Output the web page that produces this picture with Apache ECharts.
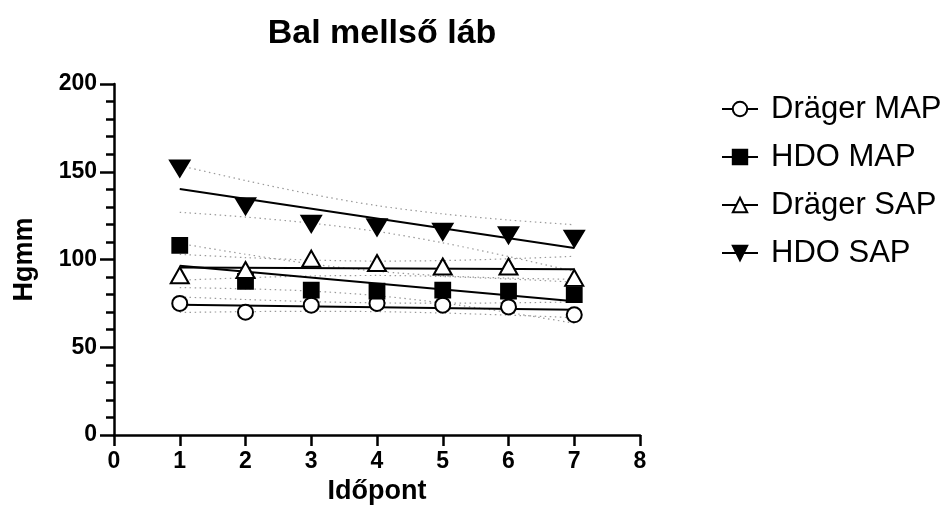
<!DOCTYPE html>
<html>
<head>
<meta charset="utf-8">
<script src="https://cdn.jsdelivr.net/npm/echarts@6/dist/echarts.min.js"></script>
<style>html,body{margin:0;padding:0;background:#fff}#c{width:942px;height:529px}</style>
</head>
<body>
<div id="c"></div>
<script>
// ---- data ----
const xValues = [1, 2, 3, 4, 5, 6, 7];
const xTicks = [0, 1, 2, 3, 4, 5, 6, 7, 8];
const yTicks = [0, 50, 100, 150, 200];
const seriesNames = ['Dräger MAP', 'HDO MAP', 'Dräger SAP', 'HDO SAP'];

const dragerMAP = [75, 70, 74, 75, 74, 73, 68.5];
const hdoMAP = [108, 87.5, 82.5, 82, 82.5, 82, 80];
const dragerSAP = [91, 94, 100.5, 98, 96, 96, 89.5];
const hdoSAP = [152, 130.5, 120.5, 118.5, 116, 114, 112];

// fitted lines (values at x = 1 and x = 7)
const fitX = [1, 7];
const dragerMAPFit = [74.2, 71.3];
const hdoMAPFit = [96.5, 76.2];
const dragerSAPFit = [95.5, 94.5];
const hdoSAPFit = [140.2, 106.5];

// dotted confidence bands (values at x = 1..7)
const dragerMAPUpper = [78.7, 77.2, 76.0, 75.3, 75.1, 75.3, 75.8];
const dragerMAPLower = [69.8, 70.3, 70.5, 70.3, 69.5, 68.3, 66.9];
const hdoMAPUpper = [109.1, 103.0, 97.5, 93.3, 90.7, 89.4, 88.7];
const hdoMAPLower = [84.0, 83.3, 82.0, 79.4, 75.2, 69.8, 63.7];
const dragerSAPUpper = [102.9, 101.1, 99.7, 99.1, 99.4, 100.4, 101.8];
const dragerSAPLower = [88.2, 89.6, 90.6, 90.9, 90.3, 88.9, 87.1];
const hdoSAPUpper = [153.5, 145.0, 137.2, 130.7, 126.0, 122.5, 119.8];
const hdoSAPLower = [126.9, 124.2, 120.7, 116.0, 109.5, 101.7, 93.2];

// ---- chart ----
const FONT = "'Liberation Sans', Arial, Helvetica, sans-serif";
const pair = (xs, ys) => xs.map((x, i) => [x, ys[i]]);

const bandStyle = { color: '#9a9a9a', width: 1.2, type: [1.5, 3.5] };
function band(vals) {
  return { type: 'line', data: pair(xValues, vals), symbol: 'none', smooth: 0.3, silent: true,
           lineStyle: bandStyle, z: 2 };
}
function fit(vals) {
  return { type: 'line', data: pair(fitX, vals), symbol: 'none', silent: true,
           lineStyle: { color: '#000', width: 2 }, z: 3 };
}
function points(name, vals, symbol, size) {
  return { type: 'line', name: name, data: pair(xValues, vals), symbol: symbol, symbolSize: size,
           showSymbol: true, showAllSymbol: true,
           lineStyle: { opacity: 0 }, itemStyle: { color: '#000', borderColor: '#000', borderWidth: 2.8 },
           emphasis: { disabled: true }, z: 5 };
}
const downTri = 'path://M0,0 L16,0 L8,14 Z';

const option = {
  animation: false,
  backgroundColor: '#fff',
  title: {
    text: 'Bal mellső láb', left: 377, top: 12, textAlign: 'center',
    textStyle: { fontFamily: FONT, fontSize: 34, fontWeight: 'bold', color: '#000' }
  },
  legend: {
    orient: 'vertical', left: 716, top: 87, itemWidth: 36, itemHeight: 18, itemGap: 14,
    data: seriesNames,
    textStyle: { fontFamily: FONT, fontSize: 31, color: '#000', lineHeight: 34, padding: [0, 0, 0, 8] },
    lineStyle: { color: '#000', width: 2, opacity: 1 },
    selectedMode: false
  },
  grid: { left: 114, top: 84, width: 526, height: 351, containLabel: false, outerBoundsMode: 'none' },
  xAxis: {
    type: 'value', min: xTicks[0], max: xTicks[xTicks.length - 1], interval: 1,
    name: 'Időpont', nameLocation: 'middle', nameGap: 43,
    nameTextStyle: { fontFamily: FONT, fontSize: 27, fontWeight: 'bold', color: '#000' },
    axisLine: { show: true, onZero: false, lineStyle: { color: '#000', width: 2.5 } },
    axisTick: { show: true, length: 11, lineStyle: { color: '#000', width: 2.5 } },
    axisLabel: { fontFamily: FONT, fontSize: 23, fontWeight: 'bold', color: '#000', margin: 15 },
    splitLine: { show: false }
  },
  yAxis: {
    type: 'value', min: yTicks[0], max: yTicks[yTicks.length - 1], interval: 50,
    name: 'Hgmm', nameLocation: 'middle', nameGap: 76,
    nameTextStyle: { fontFamily: FONT, fontSize: 27, fontWeight: 'bold', color: '#000' },
    axisLine: { show: true, onZero: false, lineStyle: { color: '#000', width: 2.5 } },
    axisTick: { show: true, length: 14, lineStyle: { color: '#000', width: 2.5 } },
    minorTick: { show: true, splitNumber: 5, length: 8, lineStyle: { color: '#000', width: 2.5 } },
    axisLabel: { fontFamily: FONT, fontSize: 23, fontWeight: 'bold', color: '#000', margin: 17 },
    splitLine: { show: false }
  },
  series: [
    band(dragerMAPUpper), band(dragerMAPLower),
    band(hdoMAPUpper), band(hdoMAPLower),
    band(dragerSAPUpper), band(dragerSAPLower),
    band(hdoSAPUpper), band(hdoSAPLower),
    fit(dragerMAPFit), fit(hdoMAPFit), fit(dragerSAPFit), fit(hdoSAPFit),
    points(seriesNames[0], dragerMAP, 'emptyCircle', 15),
    points(seriesNames[1], hdoMAP, 'rect', 14),
    points(seriesNames[2], dragerSAP, 'emptyTriangle', [18, 16]),
    points(seriesNames[3], hdoSAP, downTri, [18, 15])
  ]
};
const chart = echarts.init(document.getElementById('c'), null, { renderer: 'canvas' });
chart.setOption(option);
</script>
</body>
</html>
